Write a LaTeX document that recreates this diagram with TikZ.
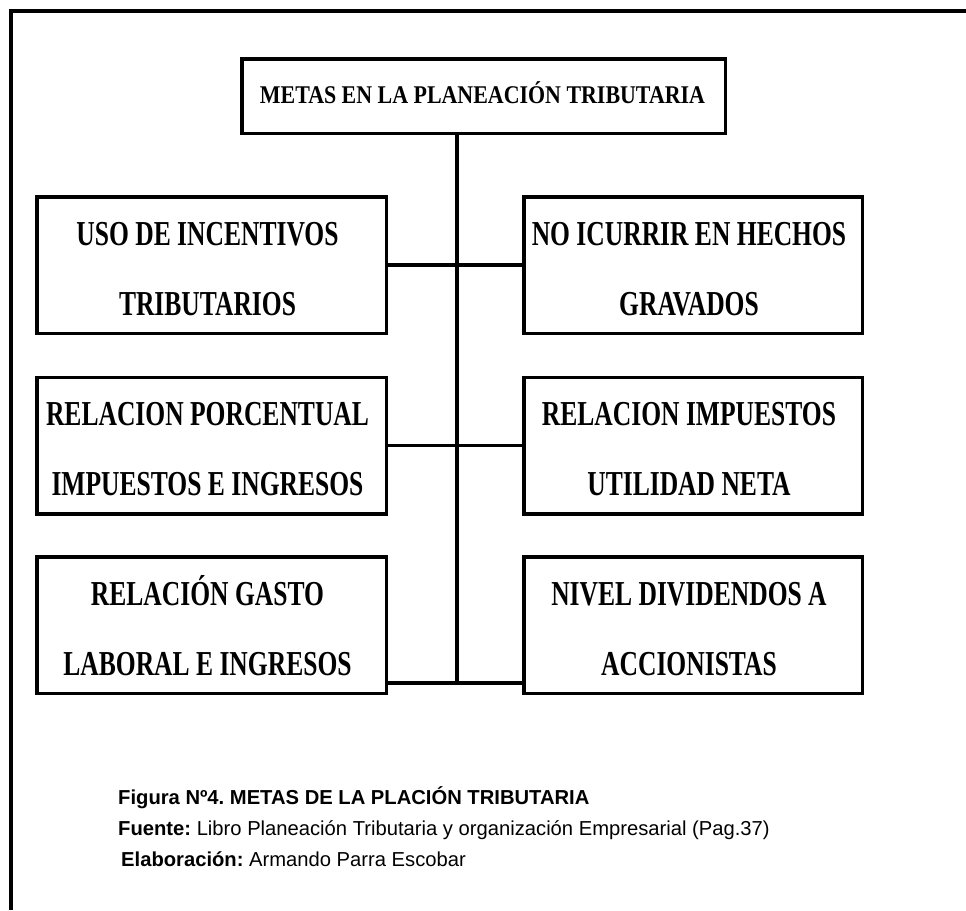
\documentclass[tikz,border=0pt]{standalone}
\usepackage{fontspec}
\setmainfont{Liberation Serif}
\newfontfamily\boxfont{Liberation Serif Bold}
\newfontfamily\capfont{Liberation Sans}
\frenchspacing
\newcommand\squeeze[1]{\scalebox{0.73}[1]{#1}}
\newcommand\goal[4]{%
  \node[goalbox] (#1) at (#2) {};
  \node[boxline] (#1a) at ([xshift=-4pt,yshift=20pt]#1.center) {\squeeze{#3}};
  \node[boxline] (#1b) at ([xshift=-4pt,yshift=-50pt]#1.center) {\squeeze{#4}};}
\begin{document}
\begin{tikzpicture}[x=1pt,y=-1pt,
  goalbox/.style={draw,line width=3.5pt,minimum width=349.5pt,minimum height=136.5pt,inner sep=0pt},
  rgoal/.style={minimum width=338.5pt},
  boxline/.style={anchor=base,inner sep=0pt,font=\boxfont\fontsize{35}{40}\selectfont},
  titlebox/.style={draw,line width=3.5pt,minimum width=483.5pt,minimum height=74.5pt,inner sep=0pt},
  link/.style={line width=3.5pt},
  captxt/.style={anchor=base west,inner sep=0pt,font=\capfont\fontsize{20.2}{24}\selectfont}]
\useasboundingbox (0,0) rectangle (966,910);
\draw[line width=4pt] (11,910) -- (11,11) -- (966,11);
\node[titlebox] (top) at (483.5,96) {};
\node[boxline,font=\boxfont\fontsize{25.5}{30}\selectfont] (toptext) at ([xshift=-1pt,yshift=-7pt]top.center)
  {\scalebox{0.86}[1]{METAS EN LA PLANEACIÓN TRIBUTARIA}};
\goal{L1}{211.5,265}{USO DE INCENTIVOS}{TRIBUTARIOS}
\goal{L2}{211.5,445.5}{RELACION PORCENTUAL}{IMPUESTOS E INGRESOS}
\goal{L3}{211.5,625}{RELACIÓN GASTO}{LABORAL E INGRESOS}
\tikzset{goalbox/.append style={rgoal}}
\goal{R1}{693,265}{NO ICURRIR EN HECHOS}{GRAVADOS}
\goal{R2}{693,445.5}{RELACION IMPUESTOS}{UTILIDAD NETA}
\goal{R3}{693,625}{NIVEL DIVIDENDOS A}{ACCIONISTAS}
\coordinate (trunkend) at (457,683);
\draw[link] (top.south -| trunkend) -- (trunkend);
\draw[link] (L1.east) -- (R1.west);
\draw[link] (L2.east) -- (R2.west);
\draw[link] (L3.east |- trunkend) -- (R3.west |- trunkend);
\node[captxt] (cap1) at (118,804) {\bfseries Figura Nº4. METAS DE LA PLACIÓN TRIBUTARIA};
\node[captxt] (cap2) at (118,835) {\bfseries Fuente:\mdseries{} Libro Planeación Tributaria y organización Empresarial (Pag.37)};
\node[captxt] (cap3) at (121,866) {\bfseries Elaboración:\mdseries{} Armando Parra Escobar};
\end{tikzpicture}
\end{document}
